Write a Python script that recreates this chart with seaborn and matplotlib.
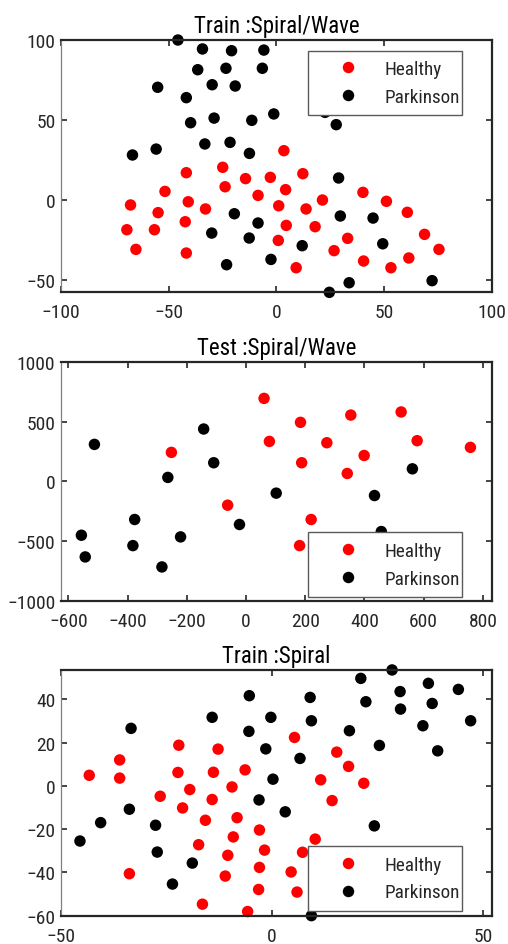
import numpy as np
import pandas as pd
import matplotlib
matplotlib.use("Agg")
import matplotlib.pyplot as plt
from matplotlib import font_manager
import seaborn as sns

# -------------------- DATA --------------------
# Train :Spiral/Wave
tsw_healthy_x = [3.5, -41.8, -24.9, -14.3, -2.8, 12.3, -23.8, -51.7, 4.3, -8.5, 40.2, -67.7,
                 -40.9, 21.4, 51.1, -54.9, -32.9, 1.1, 13.8, 60.8, -69.4, -56.6, -42.3, 4.6,
                 18.0, 68.8, -65.2, -41.8, 0.9, 33.1, 26.8, 75.5, 40.5, 53.2, 61.5, 9.2]
tsw_healthy_y = [30.7, 16.9, 20.3, 13.2, 14.0, 16.3, 8.1, 5.2, 6.3, 2.7, 4.6, -3.3,
                 -1.3, -0.2, -1.0, -8.1, -5.8, -3.8, -5.8, -7.9, -18.8, -18.8, -13.8, -16.1,
                 -16.9, -21.7, -31.1, -33.4, -25.5, -24.2, -31.9, -31.1, -38.4, -42.6, -36.5, -42.6]
tsw_park_x = [-45.7, -34.3, -20.8, -5.8, -36.5, -23.4, -6.5, -55.1, -29.8, -19.1, -41.8, -39.8,
              -28.9, -11.4, -1.2, 22.6, 27.8, -66.8, -55.8, -33.2, -21.5, -12.5, 28.9, -19.5,
              -8.5, 29.7, 44.9, -30.0, -12.6, 12.0, 49.4, -23.1, -2.5, 33.8, 72.3, 24.6]
tsw_park_y = [100.0, 94.4, 93.3, 93.7, 81.4, 82.3, 82.3, 70.4, 72.0, 71.2, 63.9, 48.2,
              51.1, 49.7, 53.7, 54.7, 47.0, 28.0, 31.7, 34.9, 35.9, 29.0, 13.6, -8.8,
              -14.6, -10.2, -11.5, -20.9, -24.0, -28.8, -27.6, -40.7, -37.4, -52.0, -50.7, -58.0]

# Test :Spiral/Wave
te_healthy_x = [61, 184, 79, 354, 524, 273, 578, 758, 399, 188, 342, -252, -62, 220, 181]
te_healthy_y = [697, 496, 336, 557, 583, 325, 342, 286, 218, 157, 67, 244, -199, -319, -538]
te_park_x = [-512, -143, -109, -264, 102, 562, 434, 457, -22, -376, -221, -556, -382, -543, -284]
te_park_y = [311, 440, 157, 34, -98, 106, -118, -420, -361, -319, -465, -451, -538, -633, -717]

# Train :Spiral
sp_healthy_x = [-43.3, -36.1, -36.1, -33.8, -26.5, -22.1, -22.3, -19.5, -21.2, -15.8, -17.4, -16.5,
                -12.8, -13.9, -14.2, -9.5, -8.3, -9.2, -10.5, -11.1, -6.4, -3.0, -1.8, -3.0,
                -3.2, -5.8, 5.3, 11.5, 14.2, 15.3, 18.1, 21.7, 10.2, 7.2, 4.5, 5.9]
sp_healthy_y = [4.9, 12.0, 3.6, -40.6, -4.8, 18.8, 6.2, -1.7, -10.2, -15.9, -27.2, -54.7,
                17.0, 6.3, -6.3, -0.5, -14.7, -23.6, -32.1, -41.7, 7.4, -20.4, -29.7, -37.7,
                -47.9, -58.1, 22.4, 2.8, -6.8, 15.6, 9.0, 1.2, -24.6, -30.7, -39.8, -49.1]
sp_park_x = [-45.5, -40.6, -33.8, -33.4, -27.6, -27.2, -18.9, -23.6, -14.2, -5.4, -5.5, -0.3,
             -1.5, 0.2, -3.1, 3.1, 9.0, 9.3, 6.6, 18.3, 21.0, 22.2, 25.4, 24.2,
             28.4, 30.3, 30.4, 37.0, 37.9, 35.7, 39.2, 44.1, 47.0, 9.3]
sp_park_y = [-25.5, -17.0, -10.8, 26.6, -18.2, -30.6, -35.7, -45.4, 31.7, 41.7, 25.2, 31.7,
             17.1, 3.1, -6.5, -12.0, 40.9, 30.1, 12.7, 25.5, 49.7, 38.9, 18.7, -18.5,
             53.6, 43.6, 35.5, 47.4, 38.1, 27.8, 16.2, 44.6, 30.1, -60.0]

classes = ["Healthy", "Parkinson"]
titles = ["Train :Spiral/Wave", "Test :Spiral/Wave", "Train :Spiral"]


def make_df(hx, hy, px, py):
    return pd.DataFrame({
        "x": list(hx) + list(px),
        "y": list(hy) + list(py),
        "cls": ["Healthy"] * len(hx) + ["Parkinson"] * len(px),
    })


panels = [
    make_df(tsw_healthy_x, tsw_healthy_y, tsw_park_x, tsw_park_y),
    make_df(te_healthy_x, te_healthy_y, te_park_x, te_park_y),
    make_df(sp_healthy_x, sp_healthy_y, sp_park_x, sp_park_y),
]

# -------------------- STYLE --------------------
sns.set_style("ticks")

# narrow Helvetica-like face if there is one, else plain Liberation Sans
installed = {f.name for f in font_manager.fontManager.ttflist}
narrow = None
for cand in ["Liberation Sans Narrow", "Arial Narrow", "Arimo Narrow", "Roboto Condensed"]:
    if cand in installed:
        narrow = cand
        break
if narrow:
    plt.rcParams["font.family"] = [narrow, "Liberation Sans", "DejaVu Sans"]
    fs, leg_fs, title_fs = 14, 13.8, 16.5
else:
    plt.rcParams["font.family"] = ["Liberation Sans", "DejaVu Sans"]
    fs, leg_fs, title_fs = 13, 12.3, 14

fig = plt.figure(figsize=(5.08, 9.45), dpi=100)
rects = [
    [0.120, 0.6896, 0.848, 0.267],
    [0.120, 0.3633, 0.848, 0.2523],
    [0.120, 0.0300, 0.848, 0.260],
]
xlims = [(-100, 100), (-625, 830), (-50, 52)]
ylims = [(-58, 100), (-1000, 1000), (-60, 53.6)]
xticks = [np.arange(-100, 101, 50), np.arange(-600, 801, 200), [-50, 0, 50]]
yticks = [[-50, 0, 50, 100], np.arange(-1000, 1001, 500), np.arange(-60, 41, 20)]
leg_boxes = [(0.573, 0.958), (0.573, 0.286), (0.573, 0.283)]

palette = {"Healthy": "#ff0000", "Parkinson": "#000000"}

for i, df in enumerate(panels):
    ax = fig.add_axes(rects[i])
    sns.scatterplot(data=df, x="x", y="y", hue="cls", hue_order=classes,
                    palette=palette, s=68, linewidth=0, ax=ax, clip_on=False,
                    legend=True)
    ax.set_xlim(*xlims[i])
    ax.set_ylim(*ylims[i])
    ax.set_xticks(xticks[i])
    ax.set_yticks(yticks[i])
    ax.set_xlabel("")
    ax.set_ylabel("")
    ax.set_title(titles[i], fontsize=title_fs, color="#000000", pad=6)
    ax.tick_params(axis="both", which="both", direction="in", length=4, width=1.2,
                   top=True, right=True, labelsize=fs, colors="#262626")
    ax.tick_params(axis="x", pad=8)
    ax.tick_params(axis="y", pad=4)
    for name, sp in ax.spines.items():
        sp.set_visible(True)
        sp.set_color("#262626")
        sp.set_linewidth(1.6)
    ax.spines["left"].set_color("#808080")
    ax.spines["left"].set_linewidth(0.9)

    handles, labels = ax.get_legend_handles_labels()
    lx, ly = leg_boxes[i]
    leg = ax.legend(handles, labels, loc="upper left",
                    bbox_to_anchor=(lx, ly, 0.357, 0.0), mode="expand",
                    fontsize=leg_fs, frameon=True, fancybox=False, framealpha=1,
                    edgecolor="#5a5a5a", handlelength=3.2, handletextpad=0.3,
                    borderpad=0.5, labelspacing=0.5, borderaxespad=0.0,
                    markerscale=1.0)
    leg.get_frame().set_linewidth(1.0)
    leg.set_zorder(10)

plt.savefig("out.png", dpi=100)
